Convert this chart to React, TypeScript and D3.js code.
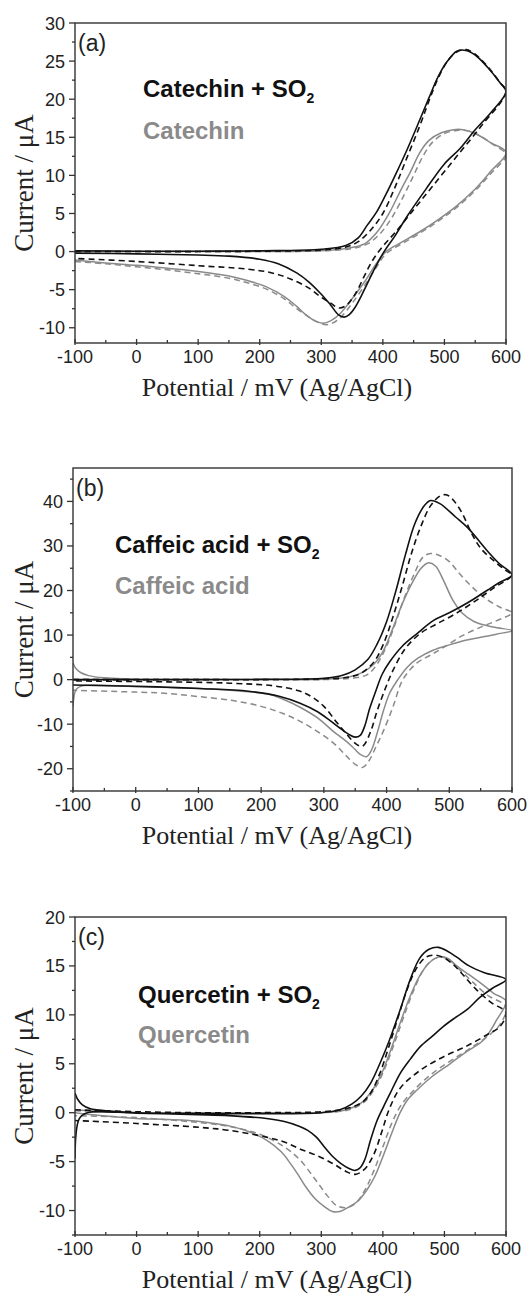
import React from 'react';
import * as d3 from 'd3';

type Pt = [number, number];

// ---------- axis ticks ----------
const potentialTicks = [-100, 0, 100, 200, 300, 400, 500, 600];
const potentialMinorTicks = [-50, 50, 150, 250, 350, 450, 550];
const currentTicksA = [-10, -5, 0, 5, 10, 15, 20, 25, 30];
const currentMinorA = [-12.5, -7.5, -2.5, 2.5, 7.5, 12.5, 17.5, 22.5, 27.5];
const currentTicksB = [-20, -10, 0, 10, 20, 30, 40];
const currentMinorB = [-25, -15, -5, 5, 15, 25, 35, 45];
const currentTicksC = [-10, -5, 0, 5, 10, 15, 20];
const currentMinorC = [-12.5, -7.5, -2.5, 2.5, 7.5, 12.5, 17.5];

// ---------- labels ----------
const panelTags = ['(a)', '(b)', '(c)'];
const legendBlack = ['Catechin + SO', 'Caffeic acid + SO', 'Quercetin + SO'];
const legendGrey = ['Catechin', 'Caffeic acid', 'Quercetin'];
const xTitle = 'Potential / mV (Ag/AgCl)';
const yTitle = 'Current / \u03BCA';

// ---------- panel (a): Catechin ----------
const catSO2Solid: Pt[] = [
  [-100, 0.1], [0, 0.05], [100, 0.05], [200, 0.1], [300, 0.3], [340, 0.8], [360, 1.8], [375, 3.5], [390, 5.2],
  [405, 7.5], [420, 10], [440, 13.5], [460, 17.3], [475, 20.2], [490, 23], [505, 25], [520, 26.3], [535, 26.4],
  [550, 25.8], [570, 24.2], [590, 22.2], [600, 21],
  [575, 18.2], [550, 16], [525, 13.5], [500, 11.5], [470, 8.2], [440, 4.7], [420, 2.1], [402, 0], [385, -2.5],
  [370, -5], [355, -7.3], [345, -8.3], [337, -8.6], [328, -8.3], [315, -7], [300, -5.6], [280, -4], [260, -2.8],
  [230, -1.6], [200, -1], [150, -0.6], [100, -0.45], [0, -0.3], [-100, -0.2],
];
const catSO2Dash: Pt[] = [
  [-100, 0], [0, 0], [100, 0], [200, 0.05], [300, 0.2], [340, 0.6], [360, 1.3], [380, 2.8], [400, 5], [420, 8.5],
  [440, 12.5], [460, 16.5], [475, 19.8], [490, 22.8], [505, 25], [520, 26.2], [535, 26.5], [550, 25.9], [570, 24.3],
  [590, 22.2], [600, 21],
  [560, 16.5], [520, 12.5], [480, 8.5], [450, 5.5], [420, 2.5], [400, 0.7], [383, -1.2], [370, -3.2], [355, -5.6],
  [340, -7.1], [328, -7.4], [316, -6.8], [300, -6], [280, -4.8], [250, -3.6], [220, -2.8], [180, -2.3], [100, -1.85],
  [0, -1.3], [-100, -0.9],
];
const catSolid: Pt[] = [
  [-100, 0.05], [0, 0], [100, 0], [200, 0], [300, 0.1], [340, 0.4], [370, 1], [390, 2.5], [410, 5], [430, 8.2],
  [445, 10.5], [460, 13], [475, 14.6], [495, 15.6], [515, 16], [530, 16], [550, 15.5], [575, 14.3], [600, 13],
  [575, 10.5], [550, 8.2], [520, 6], [490, 4.2], [460, 2.6], [430, 1.2], [405, 0], [390, -1.5], [370, -4],
  [350, -6.2], [330, -8.2], [315, -9.1], [303, -9.4], [290, -9.1], [275, -8.3], [260, -7.2], [240, -5.9],
  [210, -4.6], [180, -3.8], [150, -3.2], [100, -2.6], [50, -2.2], [0, -1.8], [-50, -1.5], [-100, -1.1],
];
const catDash: Pt[] = [
  [-100, 0], [0, 0], [100, 0], [200, 0], [300, 0.1], [350, 0.4], [375, 1], [395, 2.3], [415, 4.5], [435, 7.5],
  [450, 10], [465, 12.5], [480, 14.3], [500, 15.5], [520, 15.9], [535, 15.9], [555, 15.3], [580, 14], [600, 12.7],
  [575, 10.2], [550, 8], [520, 5.8], [490, 4], [460, 2.4], [430, 1], [405, -0.3], [390, -2], [370, -4.5],
  [350, -6.8], [332, -8.6], [318, -9.4], [308, -9.6], [295, -9.3], [280, -8.6], [260, -7.5], [240, -6.2],
  [210, -4.9], [180, -4.1], [150, -3.5], [100, -2.9], [50, -2.4], [0, -2], [-50, -1.6], [-100, -1.3],
];

// ---------- panel (b): Caffeic acid ----------
const cafSO2Solid: Pt[] = [
  [-100, 0], [0, 0], [100, 0], [200, 0.05], [300, 0.3], [330, 1], [350, 2.2], [370, 4.5], [385, 8], [400, 13],
  [415, 20], [430, 28], [445, 35], [460, 39], [470, 40.2], [485, 39.5], [510, 36.5], [530, 34], [560, 29],
  [580, 26], [600, 23.5],
  [580, 21.8], [560, 20], [530, 17.3], [500, 15], [475, 13.3], [450, 10.5], [425, 7.5], [405, 4], [393, 1.2],
  [383, -2.5], [373, -6.5], [365, -10.5], [358, -12.5], [350, -12.9], [340, -12.3], [325, -10.8], [310, -9.2],
  [290, -7.2], [262, -5.3], [230, -3.8], [180, -2.6], [100, -2], [50, -1.7], [0, -1.5], [-100, -1.2],
];
const cafSO2Dash: Pt[] = [
  [-100, 0], [0, 0], [100, 0], [200, 0], [300, 0.2], [340, 0.6], [360, 1.5], [380, 4], [395, 8], [410, 14],
  [425, 21], [440, 28.5], [455, 34.5], [470, 39], [485, 41.2], [495, 41.5], [505, 40.5], [520, 37.5], [535, 33],
  [550, 29.5], [570, 26.8], [590, 24.5], [600, 23.5],
  [570, 20.5], [540, 17.5], [510, 14.8], [480, 12.5], [455, 10.5], [430, 7], [410, 2], [398, -2], [385, -7],
  [375, -11.5], [365, -14.5], [360, -15], [350, -14.3], [335, -12], [320, -9.5], [300, -6], [280, -3.8],
  [260, -2.5], [220, -1.4], [150, -0.8], [50, -0.5], [-100, -0.3],
];
const cafSolid: Pt[] = [
  [-100, 3.8], [-96, 2.6], [-88, 1.6], [-75, 0.9], [-50, 0.4], [0, 0.1], [100, 0], [200, 0], [300, 0.1],
  [340, 0.6], [360, 1.5], [380, 3.5], [395, 6.5], [410, 11.5], [425, 17], [440, 21.5], [455, 25], [466, 26.2],
  [478, 25.5], [490, 22.5], [505, 18], [520, 15], [540, 13], [570, 11.8], [600, 11],
  [575, 10.2], [550, 9.5], [528, 8.9], [500, 7.8], [474, 6.6], [450, 4.8], [433, 2.8], [418, 0], [405, -3],
  [395, -7], [385, -12], [376, -15.8], [368, -17.3], [358, -16.8], [345, -15], [330, -13.2], [315, -11.6],
  [290, -8.6], [262, -6.2], [235, -4.4], [209, -3.2], [150, -2.4], [103, -2], [0, -1.6], [-85, -1.4],
  [-95, -2.2], [-100, -6],
];
const cafDash: Pt[] = [
  [-100, 0], [0, 0], [100, 0], [200, 0], [300, 0], [350, 0.4], [370, 1.2], [385, 3.5], [400, 7.5], [415, 13],
  [430, 19], [445, 24], [458, 27.5], [470, 28.3], [485, 27.8], [500, 26.5], [515, 24], [535, 21], [555, 18.5],
  [580, 16.3], [600, 15],
  [575, 13.2], [552, 11.9], [520, 9.8], [493, 7.4], [470, 5.5], [448, 3.7], [426, 0], [410, -6.2], [395, -11.5],
  [384, -14.8], [372, -18.2], [362, -19.7], [350, -19], [335, -17], [315, -14.2], [288, -11.5], [260, -9.2],
  [235, -7.6], [200, -6], [155, -4.7], [100, -3.8], [50, -3.1], [0, -2.8], [-100, -2.4],
];

// ---------- panel (c): Quercetin ----------
const querSO2Solid: Pt[] = [
  [-100, 2], [-96, 1.4], [-88, 0.8], [-75, 0.4], [-50, 0.2], [0, 0], [100, -0.1], [200, -0.1], [300, 0],
  [330, 0.3], [350, 0.9], [365, 1.7], [380, 3], [395, 5], [410, 7.3], [428, 10.5], [445, 13.7], [460, 15.8],
  [475, 16.7], [490, 16.9], [505, 16.5], [520, 15.9], [540, 15], [565, 14.3], [600, 13.6],
  [580, 12.8], [558, 11.8], [536, 10.5], [515, 9.6], [498, 8.8], [480, 7.8], [460, 6.7], [445, 5.5], [428, 4],
  [412, 2], [401, 0.6], [390, -0.9], [380, -2.8], [370, -4.9], [362, -5.7], [355, -5.9], [345, -5.7],
  [332, -5.2], [319, -4.5], [305, -3.5], [292, -2.5], [278, -1.8], [265, -1.4], [240, -0.9], [211, -0.6],
  [150, -0.3], [100, -0.2], [0, -0.05], [-80, 0], [-93, -0.6], [-100, -4.7],
];
const querSO2Dash: Pt[] = [
  [-100, 0.3], [0, 0.1], [100, 0], [200, 0], [300, 0.1], [340, 0.4], [365, 1], [380, 2], [395, 4], [410, 6.8],
  [425, 9.8], [440, 12.7], [455, 14.8], [470, 15.9], [485, 16.1], [500, 15.8], [515, 15.1], [530, 14.1],
  [550, 12.7], [575, 11.3], [600, 10.2],
  [590, 8.8], [570, 8], [536, 6.8], [498, 5.7], [460, 4.3], [428, 2.5], [410, 0.3], [398, -2], [385, -4.3],
  [370, -5.8], [355, -6.3], [340, -6], [319, -5.2], [290, -4.3], [265, -3.7], [240, -3], [211, -2.5],
  [150, -1.8], [103, -1.5], [0, -1.1], [-100, -0.8],
];
const querSolid: Pt[] = [
  [-100, 0.3], [-50, 0.1], [0, 0], [100, 0], [200, 0], [300, 0], [340, 0.3], [365, 1], [385, 2.5], [400, 4.3],
  [415, 6.8], [430, 9.5], [445, 12], [460, 14], [475, 15.3], [490, 15.9], [505, 15.8], [520, 15], [540, 14.1],
  [560, 13.2], [580, 12.2], [600, 11.4],
  [585, 9.5], [563, 7.4], [535, 6.2], [509, 5], [480, 3.7], [455, 2.3], [440, 1.3], [428, 0], [415, -2],
  [400, -4.5], [387, -6.5], [374, -7.9], [360, -9], [346, -9.6], [330, -10.1], [318, -10.1], [305, -9.6],
  [290, -8.8], [275, -7.6], [262, -6.3], [250, -5.2], [235, -4], [211, -2.8], [185, -2], [157, -1.45],
  [103, -0.9], [50, -0.7], [0, -0.6], [-50, -0.35], [-100, 0],
];
const querDash: Pt[] = [
  [-100, 0.2], [0, 0], [100, 0], [200, 0], [300, 0], [345, 0.3], [370, 1.1], [390, 2.8], [405, 4.8], [420, 7.3],
  [435, 10], [450, 12.5], [465, 14.5], [480, 15.6], [495, 15.9], [510, 15.5], [525, 14.6], [545, 13.4],
  [570, 12], [600, 10.8],
  [590, 9], [570, 7.8], [540, 6.5], [510, 5.3], [480, 4], [455, 2.6], [430, 0.8], [415, -1], [400, -3.5],
  [385, -6], [370, -8], [355, -9.3], [340, -9.7], [325, -9.5], [310, -8.5], [290, -6.8], [265, -4.8],
  [240, -3.5], [200, -2.2], [150, -1.4], [100, -1], [0, -0.5], [-100, -0.3],
];

const BLACK = '#111111';
const GREY = '#8a8a8a';
const AXIS = '#333333';

interface PanelCfg {
  left: number; right: number; top: number; bottom: number;
  yDomain: [number, number];
  yTicks: number[]; yMinor: number[];
  series: { data: Pt[]; color: string; dashed: boolean }[];
  tag: string; legendA: string; legendB: string;
  legendX: number; legendY1: number; legendY2: number;
}

const panels: PanelCfg[] = [
  {
    left: 75, right: 506, top: 23, bottom: 343, yDomain: [-12, 30],
    yTicks: currentTicksA, yMinor: currentMinorA,
    series: [
      { data: catDash, color: GREY, dashed: true },
      { data: catSolid, color: GREY, dashed: false },
      { data: catSO2Dash, color: BLACK, dashed: true },
      { data: catSO2Solid, color: BLACK, dashed: false },
    ],
    tag: panelTags[0], legendA: legendBlack[0], legendB: legendGrey[0],
    legendX: 143, legendY1: 97, legendY2: 139,
  },
  {
    left: 73, right: 512, top: 468, bottom: 791, yDomain: [-25, 47.5],
    yTicks: currentTicksB, yMinor: currentMinorB,
    series: [
      { data: cafDash, color: GREY, dashed: true },
      { data: cafSolid, color: GREY, dashed: false },
      { data: cafSO2Dash, color: BLACK, dashed: true },
      { data: cafSO2Solid, color: BLACK, dashed: false },
    ],
    tag: panelTags[1], legendA: legendBlack[1], legendB: legendGrey[1],
    legendX: 115, legendY1: 553, legendY2: 594,
  },
  {
    left: 75, right: 506, top: 917, bottom: 1235, yDomain: [-12.5, 20],
    yTicks: currentTicksC, yMinor: currentMinorC,
    series: [
      { data: querDash, color: GREY, dashed: true },
      { data: querSolid, color: GREY, dashed: false },
      { data: querSO2Dash, color: BLACK, dashed: true },
      { data: querSO2Solid, color: BLACK, dashed: false },
    ],
    tag: panelTags[2], legendA: legendBlack[2], legendB: legendGrey[2],
    legendX: 138, legendY1: 1003, legendY2: 1043,
  },
];

const SANS = '"Liberation Sans", Arial, Helvetica, sans-serif';
const SERIF = '"Liberation Serif", "Times New Roman", serif';

function Panel({ p, idx }: { p: PanelCfg; idx: number }) {
  const x = d3.scaleLinear().domain([-100, 600]).range([p.left, p.right]);
  const y = d3.scaleLinear().domain(p.yDomain).range([p.bottom, p.top]);
  const line = d3.line<Pt>().x(d => x(d[0])).y(d => y(d[1])).curve(d3.curveCatmullRom.alpha(0.5));
  const clipId = `clip-${idx}`;
  const midY = (p.top + p.bottom) / 2;
  return (
    <g>
      <defs>
        <clipPath id={clipId}>
          <rect x={p.left} y={p.top} width={p.right - p.left} height={p.bottom - p.top} />
        </clipPath>
      </defs>
      <g clipPath={`url(#${clipId})`}>
        {p.series.map((s, i) => (
          <path key={i} d={line(s.data) || ''} fill="none" stroke={s.color}
            strokeWidth={s.color === BLACK ? 1.6 : 1.5}
            strokeDasharray={s.dashed ? '6,4' : undefined}
            strokeLinejoin="round" />
        ))}
      </g>
      {/* frame */}
      <rect x={p.left} y={p.top} width={p.right - p.left} height={p.bottom - p.top}
        fill="none" stroke={AXIS} strokeWidth={1.4} />
      {/* x ticks */}
      {potentialTicks.map(t => (
        <g key={`xt${t}`}>
          <line x1={x(t)} x2={x(t)} y1={p.bottom - 4} y2={p.bottom + 2} stroke={AXIS} strokeWidth={1.3} />
          <text x={x(t)} y={p.bottom + 20} textAnchor="middle" fontFamily={SANS} fontSize={18} fill="#222">{t}</text>
        </g>
      ))}
      {potentialMinorTicks.map(t => (
        <line key={`xm${t}`} x1={x(t)} x2={x(t)} y1={p.bottom - 3} y2={p.bottom} stroke={AXIS} strokeWidth={1.3} />
      ))}
      {/* y ticks */}
      {p.yTicks.map(t => (
        <g key={`yt${t}`}>
          <line x1={p.left - 6} x2={p.left} y1={y(t)} y2={y(t)} stroke={AXIS} strokeWidth={1.3} />
          <text x={p.left - 10} y={y(t) + 6.5} textAnchor="end" fontFamily={SANS} fontSize={18} fill="#222">{t}</text>
        </g>
      ))}
      {p.yMinor.filter(t => t >= p.yDomain[0] && t <= p.yDomain[1]).map(t => (
        <line key={`ym${t}`} x1={p.left - 3} x2={p.left} y1={y(t)} y2={y(t)} stroke={AXIS} strokeWidth={1.3} />
      ))}
      {/* titles */}
      <text x={277} y={p.bottom + 53} textAnchor="middle" fontFamily={SERIF} fontSize={26} fill="#222">{xTitle}</text>
      <text transform={`translate(33,${midY}) rotate(-90)`} textAnchor="middle" fontFamily={SERIF} fontSize={27} fill="#222">{yTitle}</text>
      {/* tag */}
      <text x={p.left + 3} y={p.top + 28} fontFamily={SANS} fontSize={23} fill="#222">{p.tag}</text>
      {/* legend */}
      <text x={p.legendX} y={p.legendY1} fontFamily={SANS} fontSize={24} fontWeight="bold" fill={BLACK}>
        {p.legendA}<tspan fontSize={14} dy={6}>2</tspan>
      </text>
      <text x={p.legendX} y={p.legendY2} fontFamily={SANS} fontSize={24} fontWeight="bold" fill={GREY}>{p.legendB}</text>
    </g>
  );
}

export default function App() {
  return (
    <svg width={527} height={1296} style={{ position: 'absolute', left: 0, top: 0, background: '#fff' }}>
      <rect x={0} y={0} width={527} height={1296} fill="#fff" />
      {panels.map((p, i) => <Panel key={i} p={p} idx={i} />)}
    </svg>
  );
}
